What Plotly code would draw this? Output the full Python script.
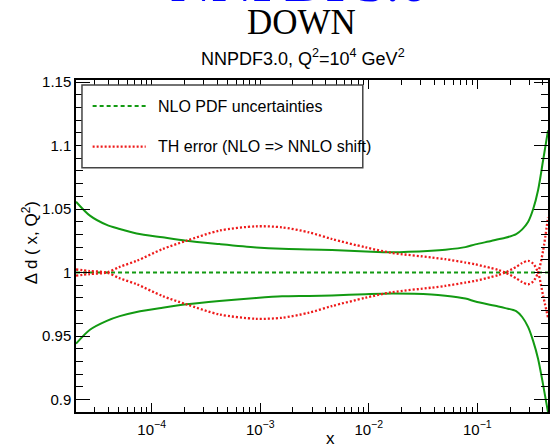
import plotly.graph_objects as go

# ---- data ----
x_vals = [2.01e-5, 2.70e-5, 3.86e-5, 5.08e-5, 7.27e-5, 1.26e-4, 2.09e-4, 4.20e-4,
          9.18e-4, 1.59e-3, 2.82e-3, 4.58e-3, 9.38e-3, 0.0163, 0.0378, 0.0508,
          0.0776, 0.0959, 0.134, 0.156, 0.181, 0.228, 0.259, 0.294, 0.327,
          0.363, 0.403, 0.448]

pdf_upper = [1.0558, 1.0448, 1.0375, 1.0343, 1.0308, 1.0277, 1.0250, 1.0224,
             1.0198, 1.0187, 1.0182, 1.0177, 1.0166, 1.0160, 1.0172, 1.0180,
             1.0200, 1.0222, 1.0248, 1.0262, 1.0274, 1.0303, 1.0340, 1.0400,
             1.0500, 1.0650, 1.0880, 1.1120]

pdf_lower = [0.9440, 0.9550, 0.9620, 0.9657, 0.9690, 0.9723, 0.9750, 0.9776,
             0.9800, 0.9813, 0.9816, 0.9820, 0.9830, 0.9835, 0.9828, 0.9818,
             0.9795, 0.9772, 0.9745, 0.9733, 0.9720, 0.9697, 0.9650, 0.9570,
             0.9460, 0.9320, 0.9120, 0.8900]

pdf_central = [1.0] * len(x_vals)

th_a = [0.9976, 0.9988, 1.0000, 1.0045, 1.0092, 1.0185, 1.0250, 1.0330,
        1.0364, 1.0356, 1.0316, 1.0264, 1.0198, 1.0155, 1.0119, 1.0105,
        1.0079, 1.0065, 1.0035, 1.0020, 1.0000, 0.9955, 0.9925, 0.9908,
        0.9930, 1.0000, 1.0170, 1.0435]

th_b = [1.0024, 1.0012, 1.0000, 0.9955, 0.9908, 0.9815, 0.9750, 0.9670,
        0.9636, 0.9644, 0.9684, 0.9736, 0.9802, 0.9845, 0.9881, 0.9895,
        0.9921, 0.9935, 0.9965, 0.9980, 1.0000, 1.0045, 1.0075, 1.0092,
        1.0070, 1.0000, 0.9820, 0.9645]

x_tickvals = [1e-4, 1e-3, 1e-2, 1e-1]
x_ticktext = ["10<sup>\u22124</sup>", "10<sup>\u22123</sup>", "10<sup>\u22122</sup>", "10<sup>\u22121</sup>"]
x_minor = [m * 10.0 ** e for e in range(-5, 0) for m in range(2, 10)]
y_tickvals = [0.9, 0.95, 1.0, 1.05, 1.1, 1.15]
y_ticktext = ["0.9", "0.95", "1", "1.05", "1.1", "1.15"]

legend_labels = ["NLO PDF uncertainties", "TH error (NLO => NNLO shift)"]

# ---- styles ----
GREEN = "#129a12"
RED = "#ee1a1a"
SANS = "Liberation Sans, Arial, sans-serif"
SERIF = "Liberation Serif, Times New Roman, serif"

W, H = 551, 446
L, R, T, B = 76, 1, 80, 34
PW, PH = W - L - R, H - T - B


def px_x(p):
    return (p - L) / PW


def px_y(p):
    return (H - B - p) / PH


fig = go.Figure()

fig.add_trace(go.Scatter(x=x_vals, y=pdf_central, mode="lines",
                         line=dict(color=GREEN, width=2, dash="4px,3px"),
                         showlegend=False, hoverinfo="skip"))
for ys in (pdf_upper, pdf_lower):
    fig.add_trace(go.Scatter(x=x_vals, y=ys, mode="lines",
                             line=dict(color=GREEN, width=2, shape="spline", smoothing=0.8),
                             showlegend=False, hoverinfo="skip"))
for ys in (th_a, th_b):
    fig.add_trace(go.Scatter(x=x_vals, y=ys, mode="lines",
                             line=dict(color=RED, width=2.3, dash="2px,2px", shape="spline", smoothing=0.8),
                             showlegend=False, hoverinfo="skip"))

axis_common = dict(showline=True, linecolor="black", linewidth=1.5, mirror="allticks",
                   ticks="inside", tickcolor="black", tickwidth=1.2, showgrid=False,
                   zeroline=False, tickfont=dict(family=SANS, size=15, color="black"))

fig.update_xaxes(type="log", range=[-4.697, -0.349], tickmode="array",
                 tickvals=x_tickvals, ticktext=x_ticktext, ticklen=9, ticklabelstandoff=3,
                 minor=dict(tickmode="array", tickvals=x_minor, ticks="inside", ticklen=5,
                            tickcolor="black", tickwidth=1, showgrid=False),
                 **axis_common)
fig.update_yaxes(range=[0.8902, 1.1516], tickmode="array", tickvals=y_tickvals,
                 ticktext=y_ticktext, ticklen=14,
                 minor=dict(dtick=0.01, tick0=0.9, ticks="inside", ticklen=7,
                            tickcolor="black", tickwidth=1, showgrid=False),
                 **axis_common)

shapes = [
    dict(type="rect", xref="paper", yref="paper", x0=px_x(82), x1=px_x(364),
         y0=px_y(167.7), y1=px_y(85), line=dict(color="#444", width=1.5),
         fillcolor="white", layer="above"),
    dict(type="line", xref="paper", yref="paper", x0=px_x(92.7), x1=px_x(146),
         y0=px_y(106), y1=px_y(106), line=dict(color=GREEN, width=2, dash="4px,3px"), layer="above"),
    dict(type="line", xref="paper", yref="paper", x0=px_x(92.7), x1=px_x(146),
         y0=px_y(146.7), y1=px_y(146.7), line=dict(color=RED, width=2.3, dash="2px,2px"), layer="above"),
]

annotations = [
    dict(text="NNPDF3.0", x=px_x(300), y=px_y(-19), xref="paper", yref="paper",
         showarrow=False, xanchor="center", yanchor="middle",
         font=dict(family=SERIF, size=57, color="#0000ff")),
    dict(text="DOWN", x=px_x(302.5), y=px_y(22.5), xref="paper", yref="paper",
         showarrow=False, xanchor="center", yanchor="middle",
         font=dict(family=SERIF, size=35, color="black")),
    dict(text="NNPDF3.0, Q<sup>2</sup>=10<sup>4</sup> GeV<sup>2</sup>", x=px_x(303.5), y=px_y(57),
         xref="paper", yref="paper", showarrow=False, xanchor="center", yanchor="middle",
         font=dict(family=SANS, size=18, color="black")),
    dict(text="\u0394 d ( x, Q<sup>2</sup>)", x=px_x(30), y=px_y(243), xref="paper", yref="paper",
         showarrow=False, textangle=-90, xanchor="center", yanchor="middle",
         font=dict(family=SANS, size=17, color="black")),
    dict(text="x", x=px_x(332), y=px_y(439), xref="paper", yref="paper",
         showarrow=False, xanchor="center", yanchor="middle",
         font=dict(family=SANS, size=17, color="black")),
    dict(text=legend_labels[0], x=px_x(156), y=px_y(106), xref="paper", yref="paper",
         showarrow=False, xanchor="left", yanchor="middle",
         font=dict(family=SANS, size=16, color="black")),
    dict(text=legend_labels[1], x=px_x(156), y=px_y(146.7), xref="paper", yref="paper",
         showarrow=False, xanchor="left", yanchor="middle",
         font=dict(family=SANS, size=16, color="black")),
]

fig.update_layout(width=W, height=H, margin=dict(l=L, r=R, t=T, b=B, pad=0),
                  paper_bgcolor="white", plot_bgcolor="white",
                  shapes=shapes, annotations=annotations, showlegend=False)

fig.write_html("out.html", config={"displayModeBar": False},
               post_script="document.body.style.margin='0';document.body.style.overflow='hidden';")
